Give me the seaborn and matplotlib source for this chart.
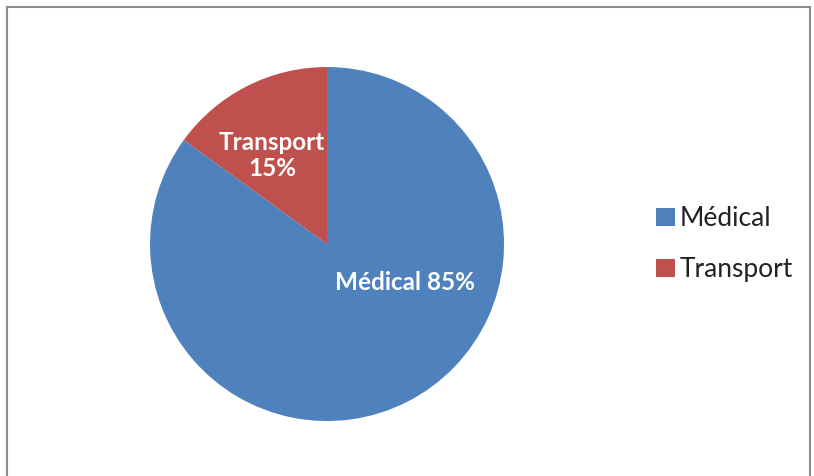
import seaborn as sns
import matplotlib.pyplot as plt
from matplotlib.patches import Rectangle

categories = ["Médical", "Transport"]
shares = [85, 15]
colors = ["#4F81BD", "#C0504D"]

sns.set_style("white")
plt.rcParams['font.family'] = ['Lato', 'DejaVu Sans']

fig = plt.figure(figsize=(8.14, 4.76), dpi=100)

# chart frame
fig.patches.append(Rectangle((7 / 814, -0.05), 803 / 814, 1 - 7 / 476 + 0.05,
                             transform=fig.transFigure, fill=False,
                             edgecolor="#8c8c8c", linewidth=1.5))

ax = fig.add_axes([0.1843, 0.1155, 0.4349, 0.7437])
wedges, _ = ax.pie(shares, colors=colors, startangle=90, counterclock=False,
                   radius=1.0, wedgeprops={"linewidth": 0})
ax.set_xlim(-1, 1)
ax.set_ylim(-1, 1)
ax.set_aspect("auto")
ax.axis("off")

# slice labels
ax.text(0.44, -0.22, f"{categories[0]} {shares[0]}%", color="white",
        fontsize=17.5, fontweight="bold", ha="center", va="center")
ax.text(-0.31, 0.50, f"{categories[1]}\n{shares[1]}%", color="white",
        fontsize=17.5, fontweight="bold", ha="center", va="center",
        linespacing=1.2)

fig.legend(wedges, categories, loc="center left",
           bbox_to_anchor=(0.777, 0.487), frameon=False, fontsize=19,
           handlelength=0.7, handleheight=0.7, handletextpad=0.2,
           labelspacing=1.0, labelcolor="#222222")

fig.savefig("out.png", dpi=100)
